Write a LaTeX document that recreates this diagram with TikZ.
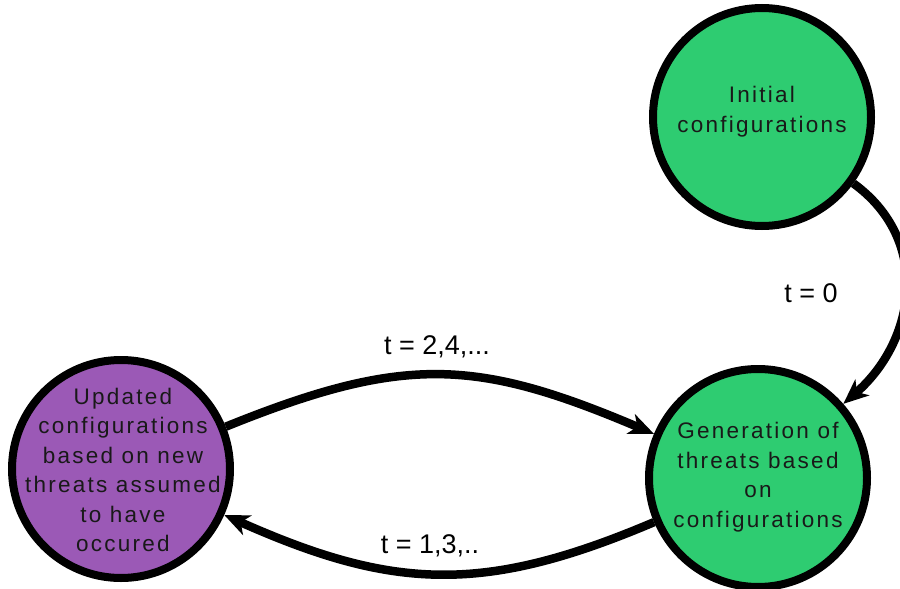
\documentclass[tikz,border=0pt]{standalone}
\usepackage{fontspec}
\setmainfont{Liberation Sans}
\newfontfamily\statefont[LetterSpace=10]{Liberation Sans}
\usetikzlibrary{arrows.meta}
\definecolor{emerald}{RGB}{46,204,113}
\definecolor{amethyst}{RGB}{155,89,182}
\tikzset{
  state/.style={circle, draw=black, line width=8pt, minimum size=218pt, inner sep=0pt},
  statetext/.style={align=center, font=\statefont\fontsize{22.5pt}{29.5pt}\selectfont, text=black!90, inner sep=0pt},
  flow/.style={line width=8.5pt, -{Stealth[length=25pt,width=21pt,inset=7pt]}},
  steplabel/.style={font=\fontsize{27pt}{30pt}\selectfont, anchor=base, inner sep=0pt}
}
\begin{document}
\begin{tikzpicture}[x=1pt, y=-1pt]
  \useasboundingbox (0,0) rectangle (900,589);

  % states
  \node[state, fill=emerald]  (init) at (762,117) {};
  \node[state, fill=emerald]  (gen)  at (758,478) {};
  \node[state, fill=amethyst] (upd)  at (121,469) {};

  \node[statetext] (init-text) at (762,111.5) {Initial\\configurations};
  \node[statetext] (gen-text)  at (758,477)   {Generation of\\threats based\\on\\configurations};
  \node[statetext] (upd-text)  at (123,470)   {Updated\\configurations\\based on new\\threats assumed\\to have\\occured};

  % transitions
  \draw[flow] (init) to[out=-36, in=41, looseness=1.12] (gen);
  \draw[flow] (upd)  to[out=22, in=157, looseness=1.15] (gen);
  \draw[flow] (gen)  to[out=-157, in=-24, looseness=1.1] (upd);

  % transition labels
  \node[steplabel] (l0)  at (811,302) {t = 0};
  \node[steplabel] (l24) at (437,354) {t = 2,4,...};
  \node[steplabel] (l13) at (430,553) {t = 1,3,..};
\end{tikzpicture}
\end{document}
